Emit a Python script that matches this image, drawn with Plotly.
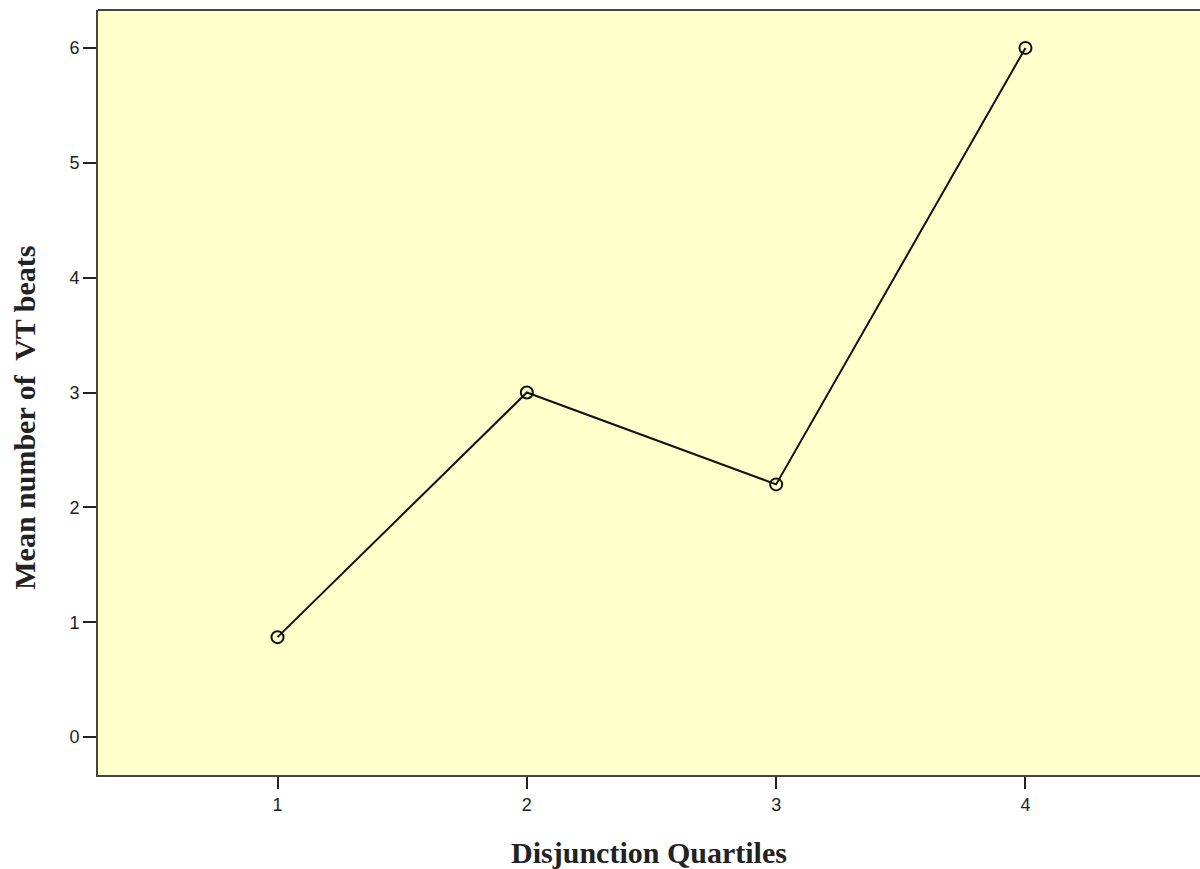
import plotly.graph_objects as go

quartiles = [1, 2, 3, 4]
mean_vt_beats = [0.87, 3.0, 2.2, 6.0]
x_ticks = [1, 2, 3, 4]
y_ticks = [0, 1, 2, 3, 4, 5, 6]

title_font = dict(family="Liberation Serif, Times New Roman, serif", size=30, color="#222222")
tick_font = dict(family="Liberation Sans, Arial, sans-serif", size=18, color="#222222")

fig = go.Figure()
fig.add_trace(go.Scatter(
    x=quartiles, y=mean_vt_beats, mode="lines+markers",
    line=dict(color="#111111", width=2),
    marker=dict(symbol="circle-open", size=12, color="#111111", line=dict(width=2)),
    showlegend=False,
))

fig.update_layout(
    width=1200, height=869,
    margin=dict(l=98, r=0, t=10, b=94),
    paper_bgcolor="white",
    plot_bgcolor="#FFFFCC",
    font=dict(family="Liberation Sans, Arial, sans-serif", size=18, color="#222222"),
    xaxis=dict(
        range=[0.28, 4.7], tickvals=x_ticks, showgrid=False, zeroline=False,
        showline=True, linecolor="#444444", linewidth=2,
        ticks="outside", ticklen=12, tickwidth=2, tickcolor="#222222", tickfont=tick_font,
        title=dict(text="<b>Disjunction Quartiles</b>", font=title_font, standoff=28),
    ),
    yaxis=dict(
        range=[-0.33, 6.33], tickvals=y_ticks, showgrid=False, zeroline=False,
        showline=True, linecolor="#444444", linewidth=2,
        ticks="outside", ticklen=13, tickwidth=2, tickcolor="#222222", tickfont=tick_font,
    ),
    annotations=[dict(
        text="<b>Mean number of  VT beats</b>", font=title_font, textangle=-90,
        xref="paper", yref="paper", x=0, y=0.467, xanchor="center", yanchor="middle",
        xshift=-73, showarrow=False,
    )],
    shapes=[dict(type="line", xref="paper", yref="paper", x0=0, x1=1, y0=1, y1=1,
                 line=dict(color="#444444", width=2))],
)

fig.write_html("out.html", config={"displayModeBar": False},
               post_script="document.body.style.margin='0';document.body.style.overflow='hidden';")
